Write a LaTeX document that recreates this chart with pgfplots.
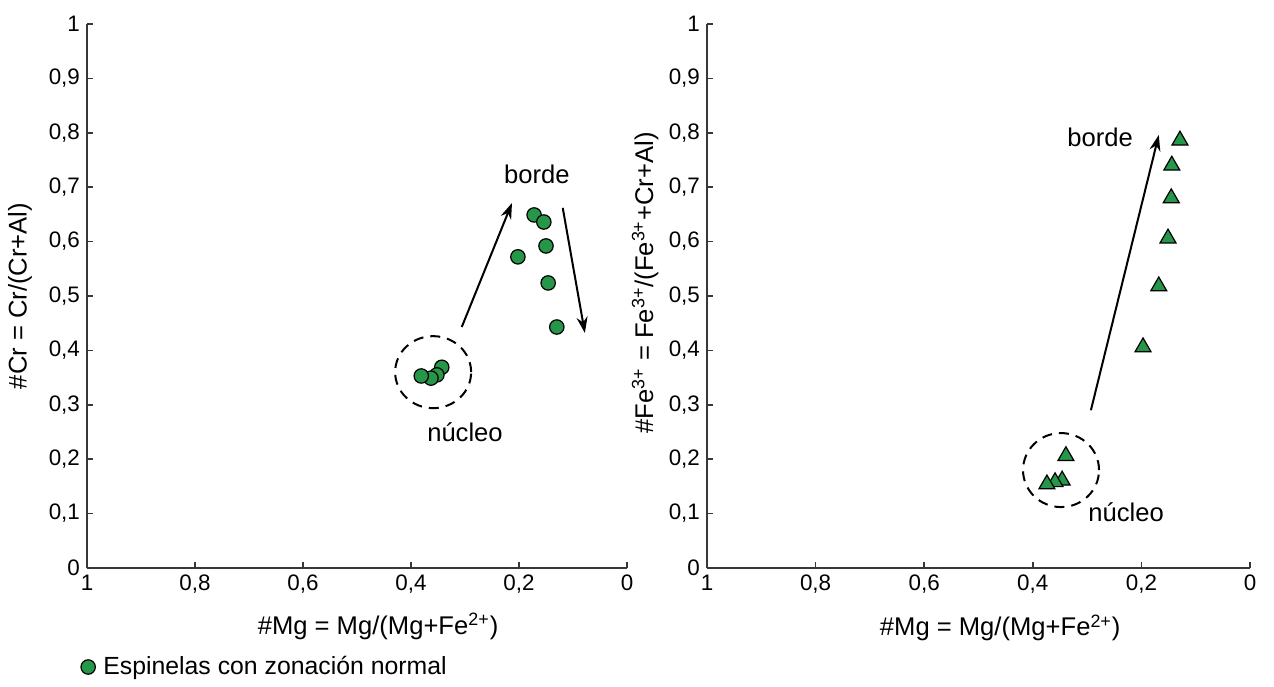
\documentclass[border=0pt]{standalone}
\usepackage{fontspec}
\setmainfont{Liberation Sans}
\usepackage{pgfplots}
\pgfplotsset{compat=1.18}
\usetikzlibrary{arrows.meta}
\definecolor{mkgreen}{RGB}{38,150,72}
\definecolor{axgray}{RGB}{55,55,55}

\tikzset{
  ell/.style={dash pattern=on 5pt off 3.5pt, line width=1pt, black},
  ann/.style={font=\fontsize{12.8}{15}\selectfont},
}
\pgfplotsset{
  spinel/.style={
    scale only axis, height=272pt,
    xmin=0, xmax=1, ymin=0, ymax=1, x dir=reverse,
    axis x line*=bottom, axis y line*=left,
    axis line style={axgray, line width=1pt},
    xtick={0,0.2,0.4,0.6,0.8,1},
    ytick={0,0.1,0.2,0.3,0.4,0.5,0.6,0.7,0.8,0.9,1},
    major tick style={axgray, line width=0.8pt}, major tick length=3pt,
    tick align=inside,
    /pgf/number format/use comma,
    /pgf/number format/assume math mode=true,
    tick label style={font=\fontsize{11.2}{13}\selectfont, text=black},
    label style={font=\fontsize{12.8}{15}\selectfont},
    clip=false,
  },
  circ/.style={only marks, mark=*, mark size=3.6pt,
    mark options={fill=mkgreen, draw=black, line width=0.6pt}},
  tri/.style={only marks, mark=triangle*, mark size=4.6pt,
    mark options={fill=mkgreen, draw=black, line width=0.6pt}},
  arr/.style={-{Stealth[length=8pt,width=5.5pt]}, line width=1pt, black, forget plot},
}

\begin{document}
\begin{tikzpicture}
\useasboundingbox (0,0) rectangle (637pt,343pt);

% Left panel
\begin{axis}[spinel, width=270pt,
  at={(43.5pt,59pt)}, anchor=south west,
  xlabel={\#Mg = Mg/(Mg+Fe\textsuperscript{2+})},
  ylabel={\#Cr = Cr/(Cr+Al)},
  xlabel style={at={(axis description cs:0.539,-0.107)}, anchor=center},
  ylabel style={at={(axis description cs:-0.124,0.5)}, anchor=center},
  legend style={draw=none, fill=none, at={(axis description cs:-0.023,-0.182)},
    anchor=west, font=\fontsize{12.4}{15}\selectfont},
  legend cell align=left,
]
\addplot[circ] coordinates {
  (0.343,0.369) (0.352,0.355) (0.363,0.349) (0.381,0.353)
  (0.172,0.649) (0.154,0.636) (0.150,0.592) (0.202,0.572)
  (0.146,0.524) (0.130,0.443)
};
\addlegendentry{\hspace{2pt}Espinelas con zonación normal}
\addplot[arr] coordinates {(0.306,0.443) (0.213,0.671)};
\addplot[arr] coordinates {(0.119,0.662) (0.078,0.432)};
\draw[ell] (axis cs:0.359,0.360) ellipse [x radius=19pt, y radius=18pt];
\node[ann] at (axis cs:0.167,0.724) {borde};
\node[ann] at (axis cs:0.300,0.250) {núcleo};
\end{axis}

% Right panel
\begin{axis}[spinel, width=271.5pt,
  at={(353.5pt,59pt)}, anchor=south west,
  xlabel={\#Mg = Mg/(Mg+Fe\textsuperscript{2+})},
  ylabel={\#Fe\textsuperscript{3+} = Fe\textsuperscript{3+}/(Fe\textsuperscript{3+}+Cr+Al)},
  xlabel style={at={(axis description cs:0.540,-0.110)}, anchor=center},
  ylabel style={at={(axis description cs:-0.114,0.524)}, anchor=center},
]
\addplot[tri] coordinates {
  (0.339,0.206) (0.346,0.161) (0.359,0.158) (0.374,0.154)
  (0.129,0.786) (0.144,0.740) (0.145,0.680) (0.151,0.606)
  (0.168,0.518) (0.197,0.406)
};
\addplot[arr] coordinates {(0.293,0.290) (0.168,0.796)};
\draw[ell] (axis cs:0.348,0.180) ellipse [x radius=19pt, y radius=18.5pt];
\node[ann] at (axis cs:0.276,0.792) {borde};
\node[ann] at (axis cs:0.228,0.103) {núcleo};
\end{axis}
\end{tikzpicture}
\end{document}
